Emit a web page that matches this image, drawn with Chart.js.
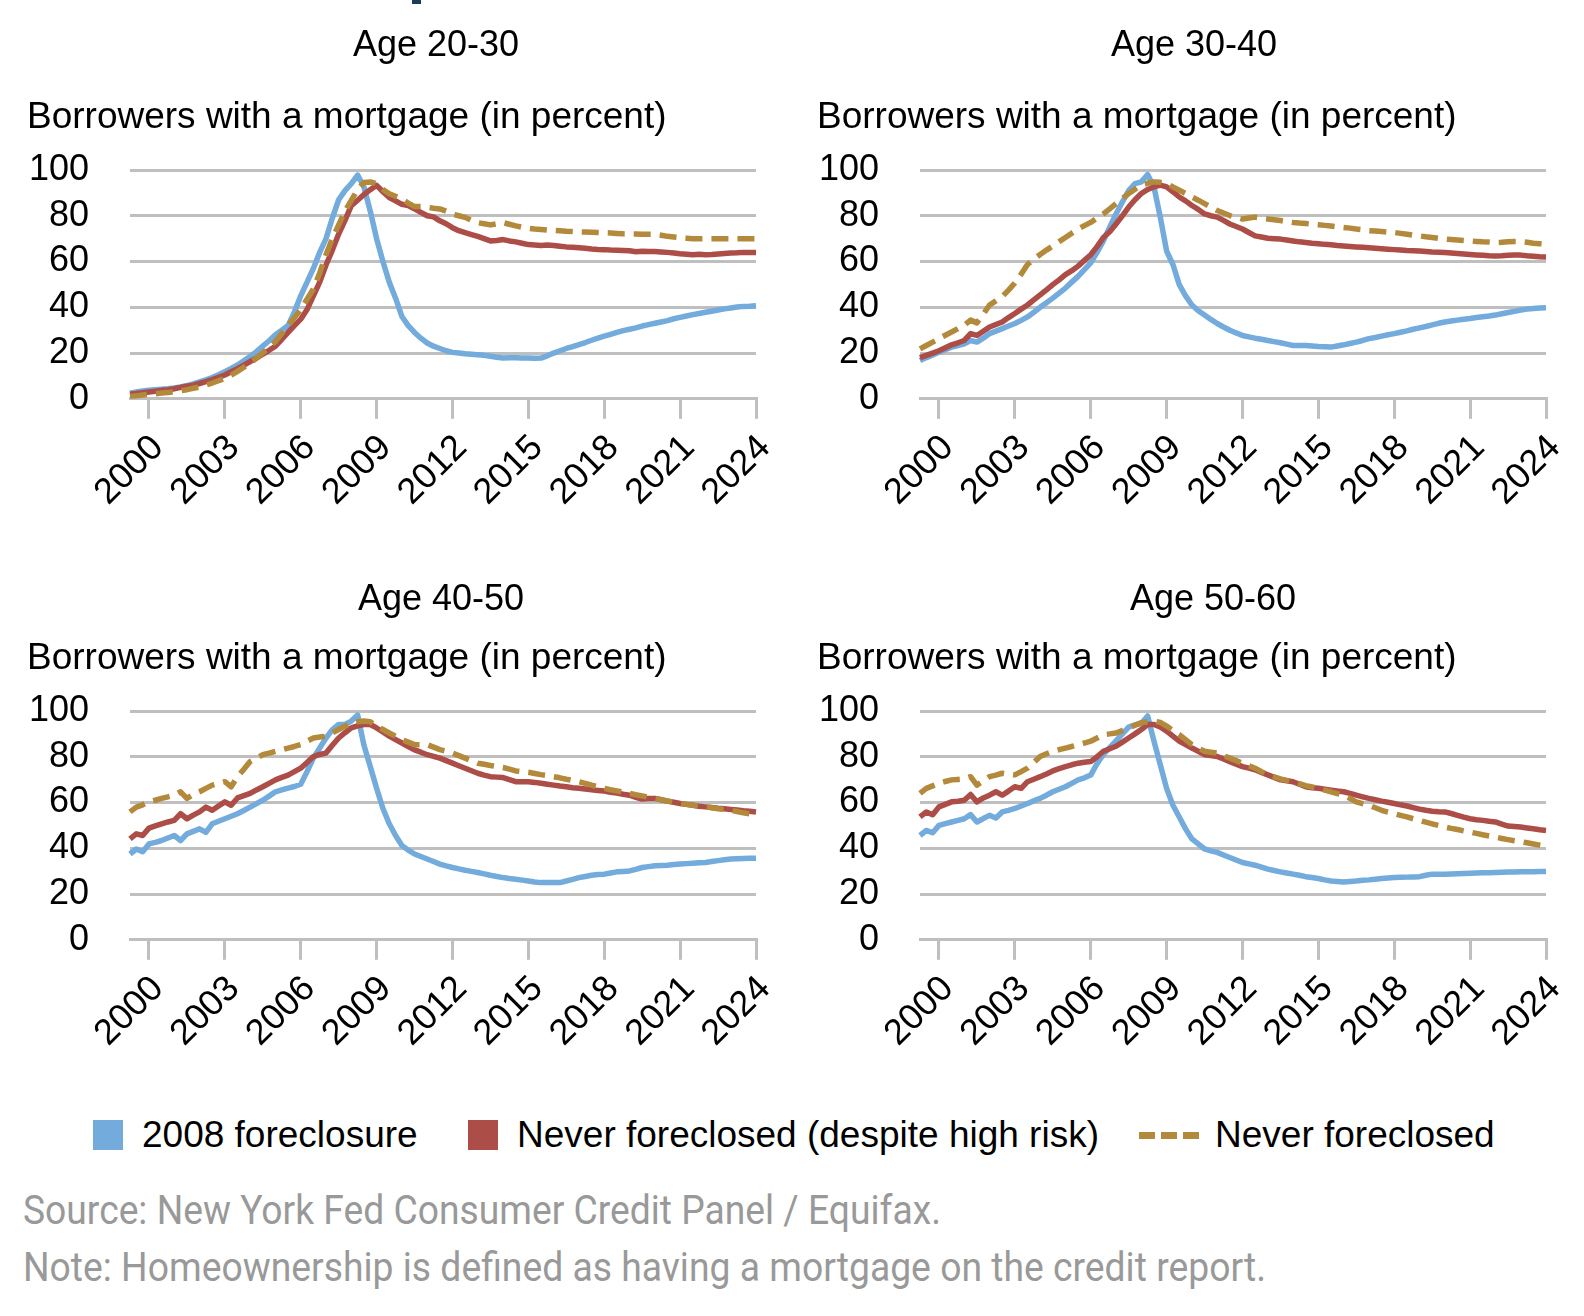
<!DOCTYPE html>
<html>
<head>
<meta charset="utf-8">
<script src="https://cdn.jsdelivr.net/npm/chart.js@4.4.1/dist/chart.umd.min.js"></script>
<style>
  body { margin: 0; background: #fff; }
  #page { position: relative; width: 1584px; height: 1316px; overflow: hidden; font-family: "Liberation Sans", Arial, sans-serif; }
  .panel { position: absolute; }
  .legend-text { position: absolute; top: 1113px; font-size: 37px; line-height: 1.2; color: #000; white-space: nowrap; }
  .swatch { position: absolute; top: 1120px; width: 30px; height: 30px; }
  .dash { position: absolute; top: 1132px; left: 1139px; width: 60px; height: 7px;
          background: repeating-linear-gradient(to right, #b3893b 0 16px, transparent 16px 22px); }
  .note { position: absolute; left: 23px; font-family: Roboto, sans-serif; font-size: 41px; line-height: 1.2;
          color: #999; white-space: nowrap; transform-origin: 0 0; }
</style>
</head>
<body>
<div id="page">
  <div style="position:absolute;left:412px;top:0;width:9px;height:4px;background:#1f3a5f"></div>
  <canvas id="c1" class="panel" width="800" height="541" style="left:0;top:0"></canvas>
  <canvas id="c2" class="panel" width="800" height="541" style="left:790px;top:0"></canvas>
  <canvas id="c3" class="panel" width="800" height="541" style="left:0;top:541px"></canvas>
  <canvas id="c4" class="panel" width="800" height="541" style="left:790px;top:541px"></canvas>

  <div class="swatch" style="left:93px;background:#72abdc"></div>
  <div class="legend-text" style="left:142px">2008 foreclosure</div>
  <div class="swatch" style="left:468px;background:#ac4d47"></div>
  <div class="legend-text" style="left:517px">Never foreclosed (despite high risk)</div>
  <div class="dash"></div>
  <div class="legend-text" style="left:1215px">Never foreclosed</div>

  <div class="note" id="n1" style="top:1186px" data-w="918">Source: New York Fed Consumer Credit Panel / Equifax.</div>
  <div class="note" id="n2" style="top:1243px" data-w="1243">Note: Homeownership is defined as having a mortgage on the credit report.</div>
</div>
<script>
// quarters 1999Q2 .. 2024Q1
const quarters = [];
for (let y = 1999; y <= 2024; y++) {
    for (let q = 1; q <= 4; q++) {
        if ((y === 1999 && q === 1) || (y === 2024 && q > 1)) continue;
        quarters.push(y + 'Q' + q);
    }
}
const tickYears = ['2000', '2003', '2006', '2009', '2012', '2015', '2018', '2021', '2024'];
const seriesNames = ['2008 foreclosure', 'Never foreclosed (despite high risk)', 'Never foreclosed'];

// Age 20-30
const fc2030 = [2.5, 3.0, 3.4,
    3.7, 4.0, 4.2, 4.4,  4.7, 5.2, 5.8, 6.5,  7.4, 8.3, 9.3, 10.5,  11.9, 13.3, 14.8, 16.6,
    18.5, 20.6, 23.0, 25.4,  28, 30, 32, 38,  45, 51, 57, 64,  70, 79, 87, 91,
    94, 97.8, 92.6, 82,  70, 60, 51, 44,  36, 32, 29, 26.5,  24.4, 23, 22, 21,
    20.3, 20, 19.7, 19.5,  19.3, 19, 18.6, 18.2,  17.8, 18, 17.9, 17.8,  17.8, 17.7, 17.8, 18.8,
    20, 21, 22, 22.8,  23.7, 24.6, 25.6, 26.5,  27.4, 28.2, 29, 29.8,  30.4, 31, 31.8, 32.4,
    33, 33.6, 34.2, 35,  35.6, 36.2, 36.8, 37.3,  37.8, 38.3, 38.8, 39.3,  39.7, 40.1, 40.4, 40.5,
    40.7];
const risk2030 = [2, 2.3, 2.7,
    3, 3.3, 3.7, 4,  4.4, 5, 5.5, 6,  6.7, 7.5, 8.4, 9.4,  10.4, 11.8, 13.2, 14.7,
    16.3, 17.8, 19.5, 21.2,  23, 26, 29, 32,  34.8, 39, 45, 51,  58.5, 65, 72, 78,
    84.4, 86.8, 89.3, 91.4,  93.3, 90.5, 88, 86.5,  85, 84.5, 83, 81.5,  80, 79.5, 77.8, 76.5,
    74.8, 73.5, 72.6, 71.8,  71, 70, 69, 69.2,  69.6, 69, 68.6, 68,  67.4, 67.2, 67, 67.2,
    67, 66.7, 66.4, 66.2,  66, 65.8, 65.5, 65.3,  65.2, 65, 64.9, 64.8,  64.7, 64.3, 64.5, 64.4,
    64.4, 64.2, 64, 63.7,  63.4, 63.2, 63, 63.2,  63, 63.1, 63.3, 63.5,  63.7, 63.8, 64, 64,
    64];
const never2030 = [1, 1.3, 1.7,
    2, 2.2, 2.5, 2.8,  3, 3.5, 4, 4.6,  5.2, 6, 6.9, 7.9,  8.9, 10.4, 12, 13.8,
    15.6, 17.8, 20.1, 22.5,  25, 28.5, 32, 35.5,  39, 43.5, 48, 55,  63, 70, 76, 82,
    86.7, 91.5, 94.5, 94.8,  94, 91.5, 89.6, 88.5,  87.4, 85.5, 84, 84,  83.7, 83.3, 83, 82,
    80.7, 80, 79.3, 78,  77, 76.5, 76, 76.5,  77, 76.3, 75.6, 75,  74.5, 74.2, 74, 73.8,
    73.6, 73.4, 73.2, 73.1,  73, 72.9, 72.8, 72.7,  72.6, 72.5, 72.3, 72.1,  72, 72, 71.9, 71.9,
    71.9, 71.5, 71, 70.7,  70.4, 70.2, 70, 70,  70, 70, 70, 70,  70, 70, 70, 70,
    70];

// Age 30-40
const fc3040 = [16.7, 18, 19.2,
    20.4, 21.5, 22.6, 23.3,  24, 25.5, 24.8, 26.5,  28.5, 29.6, 30.7, 31.8,  32.9, 34.3, 35.8, 37.8,
    40, 42, 44, 46.2,  48.4, 51, 53.5, 56.5,  59.4, 64, 69, 75,  80.8, 86, 91, 94,
    94.8, 98, 92.6, 79.4,  64.6, 58.7, 49.9, 45,  41, 38.5, 36.6, 34.7,  32.9, 31.4, 30, 28.8,
    27.7, 27.1, 26.5, 26,  25.5, 25, 24.5, 23.9,  23.3, 23.3, 23.3, 23.1,  22.9, 22.8, 22.6, 23.1,
    23.6, 24.2, 24.8, 25.5,  26.3, 26.8, 27.4, 28,  28.5, 29.1, 29.7, 30.4,  31, 31.6, 32.3, 33,
    33.6, 34, 34.4, 34.8,  35.1, 35.5, 35.9, 36.2,  36.6, 37.2, 37.7, 38.2,  38.8, 39.2, 39.5, 39.7,
    39.8];
const risk3040 = [18, 19, 20,
    21, 22.3, 23.6, 24.5,  25.5, 28.5, 27.7, 29.5,  31.4, 32.5, 33.6, 35.5,  37.3, 39.2, 41, 43.2,
    45.4, 47.6, 49.9, 52,  54.3, 56, 58, 60.5,  63, 66.5, 70.5, 73,  76.4, 80, 83.8, 87,
    89.7, 91.5, 92.6, 93.4,  92.6, 90.5, 88.2, 86.5,  84.5, 82.8, 80.8, 80,  79.4, 78, 76.4, 75.3,
    74.2, 72.7, 71.2, 70.7,  70.2, 70, 69.8, 69.4,  69, 68.6, 68.3, 68,  67.8, 67.5, 67.3, 67,
    66.8, 66.6, 66.4, 66.2,  66, 65.8, 65.6, 65.4,  65.2, 65, 64.8, 64.7,  64.6, 64.4, 64.2, 64.1,
    63.9, 63.7, 63.5, 63.3,  63.1, 62.9, 62.7, 62.5,  62.4, 62.5, 62.7, 62.8,  62.8, 62.5, 62.3, 62.1,
    62];
const never3040 = [21.8, 23.3, 24.8,
    26.3, 27.8, 29.2, 30.7,  32.2, 34.4, 33.2, 37,  41, 42.8, 44.7, 47.5,  50.6, 54.5, 58.7, 61,
    63.1, 65, 66.8, 68.7,  70.5, 72.4, 74.2, 75.7,  77.1, 79, 80.8, 83,  85.3, 87.5, 89.7, 91.6,
    93.4, 94.2, 94.8, 94.6,  94.1, 92.6, 91.2, 89.7,  88.2, 86.8, 85.3, 83.8,  82.3, 81.2, 80.1, 79.3,
    78.6, 79, 79.4, 79,  78.6, 78.3, 77.9, 77.5,  77.1, 76.8, 76.6, 76.3,  76.1, 75.8, 75.5, 75.2,
    74.9, 74.6, 74.2, 73.9,  73.5, 73.3, 73.1, 72.9,  72.7, 72.3, 71.9, 71.5,  71.2, 70.8, 70.5, 70.1,
    69.8, 69.6, 69.4, 69.2,  69, 68.8, 68.6, 68.5,  68.3, 68.4, 68.6, 68.7,  68.7, 68.4, 68, 67.8,
    67.6];

// Age 40-50
const fc4050 = [37.5, 39.7, 38.5,
    41.9, 42.6, 43.4, 44.5,  45.6, 43.4, 46.3, 47.4,  48.5, 47, 50.7, 51.8,  52.9, 54, 55.1, 56.5,
    58, 59.5, 61, 62.8,  64.7, 65.5, 66.3, 67,  68, 73.5, 79.4, 83.8,  88.2, 91.9, 94.1, 94.1,
    95.6, 98.2, 85, 75.7,  66.2, 57.4, 50.7, 45.6,  41.2, 39.2, 37.5, 36.4,  35.3, 34.2, 33.1, 32.3,
    31.6, 31, 30.4, 29.9,  29.4, 28.8, 28.2, 27.7,  27.2, 26.8, 26.5, 26.1,  25.7, 25.3, 25, 25,
    25, 25, 25.7, 26.4,  27.2, 27.7, 28.2, 28.5,  28.7, 29.2, 29.7, 29.9,  30.1, 30.8, 31.6, 32,
    32.4, 32.5, 32.6, 32.9,  33.1, 33.3, 33.5, 33.7,  33.8, 34.2, 34.6, 35,  35.3, 35.4, 35.5, 35.6,
    35.7];
const risk4050 = [44.1, 46.3, 45.6,
    48.8, 49.8, 50.7, 51.5,  52.2, 55.1, 52.9, 54.5,  55.9, 58, 56.6, 58.5,  60.3, 58.8, 62, 63,
    64, 65.5, 66.9, 68.4,  69.9, 71, 72, 73.5,  75, 77.5, 80.1, 81,  81.6, 85, 88.2, 90.5,
    92.6, 93.5, 94.1, 94.1,  92.6, 90.8, 89, 87.5,  86, 84.5, 83, 82,  80.9, 80.2, 79.4, 78.3,
    77.2, 76.1, 75, 73.9,  72.8, 72, 71.3, 71.1,  70.9, 70, 69.1, 69.1,  69.1, 68.8, 68.4, 68,
    67.6, 67.2, 66.9, 66.5,  66.2, 65.9, 65.6, 65.3,  65, 64.5, 64.1, 63.6,  63.2, 62.3, 61.5, 61.8,
    61.8, 61.2, 60.6, 60.1,  59.6, 59.2, 58.8, 58.4,  58.1, 57.8, 57.5, 57.3,  57, 56.7, 56.4, 56.2,
    55.9];
const never4050 = [55.9, 58, 59,
    60.3, 61, 61.8, 62.5,  63.2, 64.7, 61.8, 63.5,  64.7, 66.2, 67.6, 68.3,  69.1, 66.9, 71.3, 74.5,
    77.9, 79.4, 80.9, 81.6,  82.4, 83.1, 83.8, 84.5,  85.3, 86.8, 88.2, 88.6,  89, 90.5, 91.9, 93.4,
    94.9, 95.3, 95.6, 95.3,  93.4, 91.9, 90.4, 89,  87.5, 86.4, 85.3, 85.3,  85.3, 84.2, 83.1, 82.4,
    81.6, 80.5, 79.4, 78.3,  77.2, 76.7, 76.2, 75.8,  75.3, 74.6, 73.8, 73.5,  73.2, 72.7, 72.2, 71.8,
    71.3, 70.8, 70.2, 69.7,  69.1, 68.4, 67.6, 66.9,  66.2, 65.6, 65.1, 64.5,  64, 63.4, 62.9, 62.3,
    61.8, 61.2, 60.7, 60.1,  59.6, 59.2, 58.8, 58.5,  58.1, 57.7, 57.3, 57,  56.6, 56.1, 55.5, 55,
    54.4];

// Age 50-60
const fc5060 = [45.6, 47.8, 46.8,
    50, 50.8, 51.5, 52.2,  52.9, 54.7, 51.5, 53,  54.4, 53.2, 55.9, 56.6,  57.4, 58.5, 59.6, 60.7,
    61.8, 63.2, 64.7, 65.8,  66.9, 68.4, 69.9, 70.8,  72, 77, 81, 84,  87, 90, 93, 94,
    94.5, 97.8, 86.8, 76.5,  66.2, 58.8, 53.7, 48.5,  44.1, 41.9, 39.7, 38.9,  38.2, 37.1, 36, 34.9,
    33.8, 33.2, 32.6, 31.8,  30.9, 30.3, 29.7, 29.2,  28.7, 28.2, 27.6, 27.2,  26.8, 26.2, 25.7, 25.5,
    25.3, 25.5, 25.7, 26,  26.2, 26.5, 26.8, 27,  27.2, 27.3, 27.4, 27.5,  27.6, 28.2, 28.7, 28.7,
    28.7, 28.8, 28.9, 29,  29.1, 29.2, 29.3, 29.3,  29.4, 29.5, 29.6, 29.6,  29.7, 29.8, 29.8, 29.9,
    29.9];
const risk5060 = [53.7, 55.9, 54.7,
    58.1, 59.2, 60.3, 60.6,  61, 63.5, 60.3, 62,  63.2, 64.7, 63.2, 65,  66.9, 66.2, 69.1, 70.2,
    71.3, 72.5, 73.8, 74.8,  75.7, 76.5, 77.2, 77.6,  77.9, 80, 82.4, 83.5,  84.6, 86.4, 88.2, 90,
    91.9, 94.1, 94.1, 93,  91.2, 89, 86.8, 85.3,  83.8, 82.4, 80.9, 80.5,  80.1, 79, 77.9, 76.8,
    75.7, 75, 74.3, 73.2,  72.1, 71, 69.9, 69.5,  69.1, 68, 66.9, 66.5,  66.2, 65.8, 65.4, 65,
    64.7, 64, 63.2, 62.5,  61.8, 61.2, 60.6, 60.1,  59.6, 59, 58.5, 57.8,  57.1, 56.6, 56.2, 56,
    55.9, 55.2, 54.4, 53.6,  52.9, 52.5, 52.2, 51.8,  51.5, 50.6, 49.7, 49.5,  49.3, 48.9, 48.5, 48.1,
    47.8];
const never5060 = [64, 66.2, 67.3,
    68.4, 69.2, 69.9, 70.1,  70.3, 71.3, 67.6, 69.5,  71.3, 72, 72.8, 72.4,  72.1, 73.5, 75, 77.5,
    80.1, 81.3, 82.4, 83.1,  83.8, 84.5, 85.3, 86,  86.8, 88.2, 89.7, 90,  90.4, 91.5, 92.6, 93.8,
    94.9, 95.3, 95.6, 95,  93.4, 91.5, 89.7, 87.5,  85.3, 83.8, 82.4, 82,  81.6, 80.5, 79.4, 78.3,
    77.2, 76.1, 75, 73.5,  72.1, 71.2, 70.3, 69.7,  69.1, 68.2, 67.4, 66.8,  66.2, 65.4, 64.7, 63.9,
    63.2, 61.8, 60.3, 59.5,  58.8, 57.7, 56.6, 55.8,  55.1, 54.4, 53.7, 52.9,  52.2, 51.4, 50.7, 50,
    49.3, 48.7, 48.2, 47.6,  47.1, 46.5, 45.9, 45.4,  44.9, 44.3, 43.8, 43.3,  42.9, 42.4, 41.9, 41.4,
    40.9];

const colors = ['#72abdc', '#ac4d47', '#b3893b'];
const gridColor = '#bfbfbf';

Chart.defaults.font.family = '"Liberation Sans", Arial, sans-serif';
Chart.defaults.color = '#000';

// panel heading, placed where the original puts it
const panelTitle = {
    id: 'panelTitle',
    afterDraw(chart, args, opts) {
        const ctx = chart.ctx;
        ctx.save();
        ctx.font = '36px "Liberation Sans", Arial, sans-serif';
        ctx.fillStyle = '#000';
        ctx.textAlign = 'center';
        ctx.textBaseline = 'middle';
        ctx.fillText(opts.text, opts.x, opts.y);
        ctx.restore();
    }
};

function createPanel(id, title, titleX, titleY, fc, risk, never) {
    const ctx = document.getElementById(id).getContext('2d');
    return new Chart(ctx, {
        type: 'line',
        data: {
            labels: quarters,
            datasets: [
                { label: seriesNames[0], data: fc, borderColor: colors[0], order: 3 },
                { label: seriesNames[1], data: risk, borderColor: colors[1], order: 2 },
                { label: seriesNames[2], data: never, borderColor: colors[2], borderDash: [17, 9], order: 1 }
            ]
        },
        options: {
            responsive: false,
            animation: false,
            devicePixelRatio: 1,
            layout: { padding: { left: 27, right: 44, top: 0, bottom: 19 } },
            elements: {
                line: { borderWidth: 5.5, tension: 0, borderCapStyle: 'butt', borderJoinStyle: 'round', fill: false },
                point: { radius: 0 }
            },
            scales: {
                x: {
                    type: 'category',
                    offset: false,
                    grid: { drawOnChartArea: false, drawTicks: true, tickLength: 20, color: gridColor, lineWidth: 3 },
                    border: { display: true, color: gridColor, width: 3 },
                    ticks: {
                        autoSkip: false,
                        minRotation: 45,
                        maxRotation: 45,
                        padding: 8,
                        labelOffset: 9,
                        font: { size: 36 },
                        color: '#000',
                        callback: function (value) {
                            const q = this.getLabelForValue(value);
                            const yr = q.slice(0, 4);
                            return (q.endsWith('Q1') && tickYears.includes(yr)) ? yr : null;
                        }
                    }
                },
                y: {
                    min: 0,
                    max: 100,
                    afterFit: (scale) => { scale.width = 103; },
                    grid: { color: gridColor, lineWidth: 3, drawTicks: false },
                    border: { display: false },
                    ticks: { stepSize: 20, autoSkip: false, padding: 41, font: { size: 36 }, color: '#000' }
                }
            },
            plugins: {
                legend: { display: false },
                tooltip: { enabled: false },
                title: { display: false },
                subtitle: {
                    display: true,
                    text: 'Borrowers with a mortgage (in percent)',
                    align: 'start',
                    color: '#000',
                    font: { size: 37, weight: 'normal' },
                    padding: { top: 95.5, bottom: 30.1 }
                },
                panelTitle: { text: title, x: titleX, y: titleY }
            }
        },
        plugins: [panelTitle]
    });
}

createPanel('c1', 'Age 20-30', 436, 46, fc2030, risk2030, never2030);
createPanel('c2', 'Age 30-40', 404, 46, fc3040, risk3040, never3040);
createPanel('c3', 'Age 40-50', 441, 59, fc4050, risk4050, never4050);
createPanel('c4', 'Age 50-60', 423, 59, fc5060, risk5060, never5060);

// squeeze the source lines to the narrow width of the original face
document.querySelectorAll('.note').forEach(el => {
    const w = el.getBoundingClientRect().width;
    el.style.transform = 'scaleX(' + (Number(el.dataset.w) / w) + ')';
});
</script>
</body>
</html>
